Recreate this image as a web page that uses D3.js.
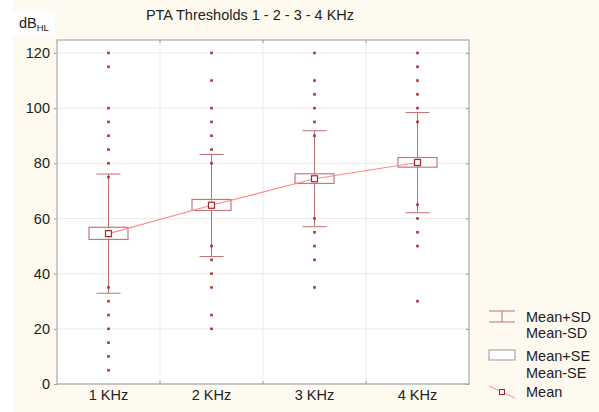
<!DOCTYPE html>
<html>
<head>
<meta charset="utf-8">
<style>
  body { margin: 0; background: #fff; }
  svg { display: block; font-family: "Liberation Sans", Arial, sans-serif; }
</style>
</head>
<body>
<svg width="599" height="412"></svg>
<script src="https://cdnjs.cloudflare.com/ajax/libs/d3/7.8.5/d3.min.js"></script>
<script>
// categories and summary stats
const categories = ['1 KHz', '2 KHz', '3 KHz', '4 KHz'];
const means = [54.5, 64.8, 74.4, 80.3];
const seLow = [52.4, 62.9, 72.7, 78.6];
const seHigh = [56.8, 66.9, 76.2, 82.1];
const sdLow = [32.9, 46.2, 57.0, 62.1];
const sdHigh = [76.1, 83.2, 91.8, 98.4];
// individual outlying points per category
const points = [
  [120, 115, 100, 95, 90, 85, 80, 75, 35, 30, 25, 20, 15, 10, 5],
  [120, 110, 100, 95, 90, 85, 80, 50, 45, 40, 35, 25, 20],
  [120, 110, 105, 100, 95, 90, 60, 55, 50, 45, 35],
  [120, 115, 110, 105, 100, 95, 65, 60, 55, 50, 30]
];
const yTicks = [0, 20, 40, 60, 80, 100, 120];

const svg = d3.select('svg');
const W = 599, H = 412;
const margin = {left: 57, top: 40, right: 130, bottom: 28};
const pw = W - margin.left - margin.right;
const ph = H - margin.top - margin.bottom;
const fs = 14.5;

// backgrounds
svg.append('rect').attr('width', W).attr('height', H).attr('fill', '#fefaf0');
svg.append('rect').attr('width', 13).attr('height', H).attr('fill', '#fff');
svg.append('rect').attr('x', 13).attr('y', 11).attr('width', 42).attr('height', 24).attr('fill', '#fff');

const x = d3.scaleBand().domain(categories).range([0, pw]).padding(0);
const y = d3.scaleLinear().domain([0, 124.7]).range([ph, 0]);

const g = svg.append('g').attr('transform', `translate(${margin.left},${margin.top})`);
g.append('rect').attr('width', pw).attr('height', ph).attr('fill', '#fff');

// grid
g.append('g').selectAll('line').data(yTicks).join('line')
  .attr('x1', 0).attr('x2', pw)
  .attr('y1', d => y(d)).attr('y2', d => y(d))
  .attr('stroke', '#ebebeb');
g.append('g').selectAll('line').data(categories.slice(1)).join('line')
  .attr('x1', d => x(d)).attr('x2', d => x(d))
  .attr('y1', 0).attr('y2', ph)
  .attr('stroke', '#ebebeb');

// frame
g.append('rect').attr('width', pw).attr('height', ph)
  .attr('fill', 'none').attr('stroke', '#999');

// axes
const yAxis = g.append('g').call(d3.axisLeft(y).tickValues(yTicks).tickSize(3).tickPadding(4));
const yAxisR = g.append('g').attr('transform', `translate(${pw},0)`)
  .call(d3.axisLeft(y).tickValues(yTicks).tickSize(3).tickFormat(''));
const xAxis = g.append('g').attr('transform', `translate(0,${ph})`)
  .call(d3.axisBottom(x).tickSize(0).tickPadding(6));
g.append('g').selectAll('line').data(categories.slice(1)).join('line')
  .attr('x1', d => x(d)).attr('x2', d => x(d))
  .attr('y1', ph).attr('y2', ph - 3).attr('stroke', '#999');
g.append('g').selectAll('line').data(categories.slice(1)).join('line')
  .attr('x1', d => x(d)).attr('x2', d => x(d))
  .attr('y1', 0).attr('y2', 3).attr('stroke', '#999');
[yAxis, yAxisR, xAxis].forEach(a => {
  a.select('.domain').remove();
  a.selectAll('line').attr('stroke', '#999');
  a.selectAll('text').attr('font-size', fs).attr('fill', '#222')
    .attr('font-family', '"Liberation Sans", Arial, sans-serif');
});

const cx = d => x(d) + x.bandwidth() / 2;
const boxW = 39, capW = 24;
const sdColor = '#c07070', boxColor = '#c07a7a', ptColor = '#a83232';

// SD whiskers
const wh = g.append('g').attr('stroke', sdColor).attr('stroke-width', 1);
categories.forEach((c, i) => {
  wh.append('line').attr('x1', cx(c)).attr('x2', cx(c))
    .attr('y1', y(sdLow[i])).attr('y2', y(sdHigh[i]));
  [sdLow[i], sdHigh[i]].forEach(v => {
    wh.append('line').attr('x1', cx(c) - capW / 2).attr('x2', cx(c) + capW / 2)
      .attr('y1', y(v)).attr('y2', y(v));
  });
});

// SE boxes
g.append('g').selectAll('rect').data(categories).join('rect')
  .attr('x', d => cx(d) - boxW / 2)
  .attr('y', (d, i) => y(seHigh[i]))
  .attr('width', boxW)
  .attr('height', (d, i) => y(seLow[i]) - y(seHigh[i]))
  .attr('fill', '#fff').attr('fill-opacity', 0.6)
  .attr('stroke', boxColor).attr('stroke-width', 1.2);

// points
categories.forEach((c, i) => {
  g.append('g').selectAll('rect').data(points[i]).join('rect')
    .attr('x', cx(c) - 1.3).attr('y', d => y(d) - 1.3)
    .attr('width', 2.6).attr('height', 2.6)
    .attr('fill', ptColor);
});

// mean line
g.append('path')
  .datum(categories)
  .attr('d', d3.line().x(d => cx(d)).y((d, i) => y(means[i])))
  .attr('fill', 'none').attr('stroke', '#ff8a8a').attr('stroke-width', 1.2);
g.append('g').selectAll('rect').data(categories).join('rect')
  .attr('x', d => cx(d) - 3).attr('y', (d, i) => y(means[i]) - 3)
  .attr('width', 6).attr('height', 6)
  .attr('fill', '#fff').attr('stroke', '#a02828').attr('stroke-width', 1.2);

// title
svg.append('text').attr('x', 250).attr('y', 20).attr('text-anchor', 'middle')
  .attr('font-size', fs).attr('fill', '#222').text('PTA Thresholds 1 - 2 - 3 - 4 KHz');
const yl = svg.append('text').attr('x', 19).attr('y', 28).attr('font-size', fs).attr('fill', '#222');
yl.append('tspan').text('dB');
yl.append('tspan').attr('font-size', 9.5).attr('dy', 3).text('HL');

// legend
const lg = svg.append('g').attr('font-size', fs).attr('fill', '#222');
const lx = 489, lw = 26, tx = 526;
lg.append('line').attr('x1', lx).attr('x2', lx + lw).attr('y1', 311).attr('y2', 311).attr('stroke', sdColor);
lg.append('line').attr('x1', lx).attr('x2', lx + lw).attr('y1', 322).attr('y2', 322).attr('stroke', sdColor);
lg.append('line').attr('x1', lx + lw / 2).attr('x2', lx + lw / 2).attr('y1', 311).attr('y2', 322).attr('stroke', sdColor);
lg.append('rect').attr('x', lx).attr('y', 350).attr('width', lw).attr('height', 10)
  .attr('fill', '#fff').attr('stroke', '#999');
lg.append('line').attr('x1', lx).attr('x2', lx + lw).attr('y1', 386).attr('y2', 398).attr('stroke', '#ff8a8a');
lg.append('rect').attr('x', lx + lw / 2 - 2.5).attr('y', 389.5).attr('width', 5).attr('height', 5)
  .attr('fill', '#fff').attr('stroke', '#a02828');
const labels = [['Mean+SD', 322], ['Mean-SD', 338], ['Mean+SE', 361], ['Mean-SE', 378], ['Mean', 397]];
labels.forEach(([t, yy]) => lg.append('text').attr('x', tx).attr('y', yy).text(t));
</script>
</body>
</html>
